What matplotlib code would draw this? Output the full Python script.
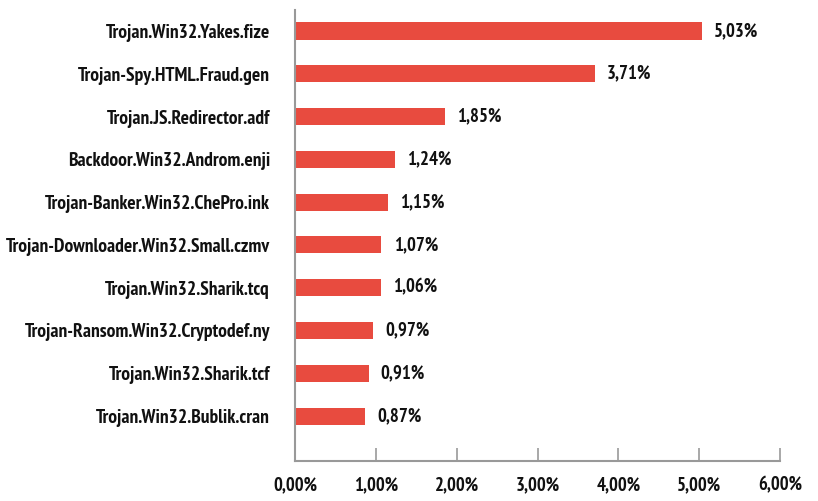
import matplotlib
matplotlib.use("Agg")
import matplotlib.pyplot as plt
from matplotlib.ticker import FuncFormatter

categories = [
    "Trojan.Win32.Yakes.fize",
    "Trojan-Spy.HTML.Fraud.gen",
    "Trojan.JS.Redirector.adf",
    "Backdoor.Win32.Androm.enji",
    "Trojan-Banker.Win32.ChePro.ink",
    "Trojan-Downloader.Win32.Small.czmv",
    "Trojan.Win32.Sharik.tcq",
    "Trojan-Ransom.Win32.Cryptodef.ny",
    "Trojan.Win32.Sharik.tcf",
    "Trojan.Win32.Bublik.cran",
]
values = [5.03, 3.71, 1.85, 1.24, 1.15, 1.07, 1.06, 0.97, 0.91, 0.87]
xticks = [0, 1, 2, 3, 4, 5, 6]

FONT = ["PT Sans Narrow", "DejaVu Sans"]
plt.rcParams["font.family"] = FONT
FS_Y = 14
FS = 13.5

fig = plt.figure(figsize=(8.18, 5.01), dpi=100)
ax = fig.add_axes([295 / 818, 1 - 461 / 501, (780 - 295) / 818, (461 - 10) / 501])

bar_color = "#E84B3F"
ypos = list(range(len(categories)))
ax.barh(ypos, values, height=0.4, color=bar_color)

for y, v in zip(ypos, values):
    ax.text(v + 0.15, y, f"{v:.2f}".replace(".", ",") + "%", va="center", ha="left",
            fontsize=FS, fontweight="bold", color="#111111")

ax.set_xlim(0, 6)
ax.set_ylim(len(categories) - 1 + 1.05, -0.49)
ax.set_yticks(ypos)
ax.set_yticklabels(categories, fontsize=FS_Y, fontweight="bold", color="#111111")
ax.set_xticks(xticks)
ax.xaxis.set_major_formatter(FuncFormatter(lambda x, p: f"{x:.2f}".replace(".", ",") + "%"))
for lab in ax.get_xticklabels():
    lab.set_fontweight("bold")
    lab.set_fontsize(FS)
    lab.set_color("#111111")

ax.tick_params(axis="y", length=0, pad=18)
ax.tick_params(axis="x", direction="in", length=9.5, width=1.2, color="#999999", pad=11)

for s in ["top", "right"]:
    ax.spines[s].set_visible(False)
for s in ["left", "bottom"]:
    ax.spines[s].set_color("#999999")
    ax.spines[s].set_linewidth(1.5)

fig.savefig("out.png", dpi=100)
